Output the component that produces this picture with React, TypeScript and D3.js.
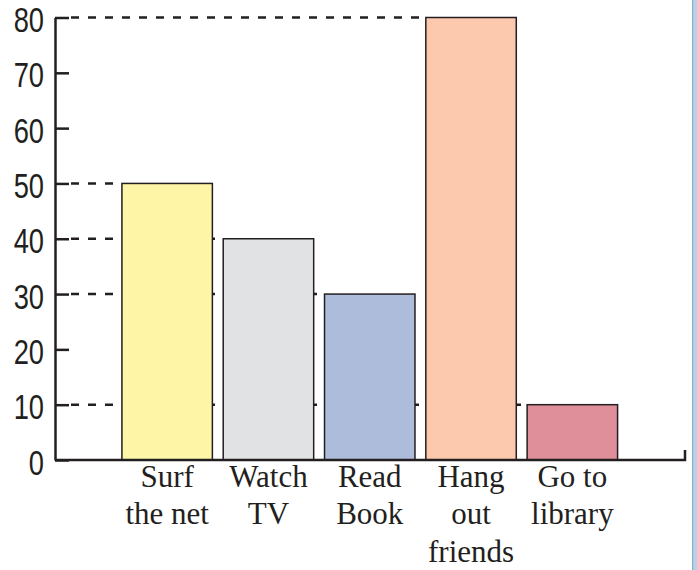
import * as d3 from "d3";
import React from "react";

// activities and how many students picked each one
const categories = ["Surf the net", "Watch TV", "Read Book", "Hang out friends", "Go to library"];
const labelLines = [["Surf", "the net"], ["Watch", "TV"], ["Read", "Book"], ["Hang", "out", "friends"], ["Go to", "library"]];
const values = [50, 40, 30, 80, 10];
const barColors = ["#fef6a6", "#e1e2e4", "#aebcdc", "#fcc8ae", "#de8f9a"];
const yTicks = [0, 10, 20, 30, 40, 50, 60, 70, 80];

const W = 697;
const H = 570;
const axisX = 55;
const axisBottomY = 460;
const axisTopY = 17.5;
const axisEndX = 685;
const ink = "#231f20";
const squeeze = 0.78; // tick digits are a condensed face in the original

const App = () => {
  const ref = React.useRef<SVGSVGElement>(null);

  React.useEffect(() => {
    const svg = d3.select(ref.current);
    svg.selectAll("*").remove();

    const y = d3.scaleLinear().domain([0, 80]).range([axisBottomY, axisTopY]);
    const x = d3
      .scaleBand()
      .domain(categories)
      .range([116.5, 623])
      .paddingInner(0.107)
      .paddingOuter(0.0535);

    const data = categories.map((c, i) => ({ cat: c, value: values[i], color: barColors[i], lines: labelLines[i] }));

    // dashed guide lines from the axis to each bar top (sit behind the bars)
    svg
      .append("g")
      .selectAll("line")
      .data(data)
      .enter()
      .append("line")
      .attr("x1", axisX + 16)
      .attr("x2", (d) => x(d.cat)!)
      .attr("y1", (d) => y(d.value))
      .attr("y2", (d) => y(d.value))
      .attr("stroke", ink)
      .attr("stroke-width", 2.4)
      .attr("stroke-dasharray", "8,9");

    // bars
    svg
      .append("g")
      .selectAll("rect")
      .data(data)
      .enter()
      .append("rect")
      .attr("x", (d) => x(d.cat)!)
      .attr("y", (d) => y(d.value))
      .attr("width", x.bandwidth())
      .attr("height", (d) => y(0) - y(d.value))
      .attr("fill", (d) => d.color)
      .attr("stroke", ink)
      .attr("stroke-width", 1.5);

    // y axis, ticks pointing inward
    const yAxis = d3
      .axisLeft(y)
      .tickValues(yTicks)
      .tickSizeInner(-14)
      .tickSizeOuter(0)
      .tickPadding(11);
    const ag = svg
      .append("g")
      .attr("transform", "translate(" + axisX + ",0)")
      .call(yAxis);
    ag.select(".domain").attr("stroke", ink).attr("stroke-width", 2.5);
    ag.selectAll(".tick line").attr("stroke", ink).attr("stroke-width", 2.5);
    ag.selectAll(".tick text")
      .attr("fill", ink)
      .attr("x", -11 / squeeze)
      .attr("dy", "0.4em")
      .attr("transform", "scale(" + squeeze + ",1)")
      .style("font-family", "'Liberation Sans', 'DejaVu Sans', sans-serif")
      .style("font-size", "35px");

    // x axis baseline with small upturn at the end
    svg
      .append("path")
      .attr("d", "M" + axisX + "," + axisBottomY + "H" + axisEndX + "V" + (axisBottomY - 10))
      .attr("fill", "none")
      .attr("stroke", ink)
      .attr("stroke-width", 2.5);

    // category labels
    const lab = svg
      .append("g")
      .selectAll("text")
      .data(data)
      .enter()
      .append("text")
      .attr("x", (d) => x(d.cat)! + x.bandwidth() / 2)
      .attr("y", 486.7)
      .attr("text-anchor", "middle")
      .attr("fill", ink)
      .style("font-family", "'Liberation Serif', 'Times New Roman', serif")
      .style("font-size", "31px");
    lab
      .selectAll("tspan")
      .data((d) => d.lines.map((l) => ({ l, cx: x(d.cat)! + x.bandwidth() / 2 })))
      .enter()
      .append("tspan")
      .attr("x", (d) => d.cx)
      .attr("dy", (d, i) => (i === 0 ? 0 : 37.5))
      .text((d) => d.l);

    // page edge strip on the right
    svg.append("rect").attr("x", 692).attr("y", 0).attr("width", 5).attr("height", H).attr("fill", "#b7d2e6");
    svg.append("rect").attr("x", 692).attr("y", 0).attr("width", 1.2).attr("height", H).attr("fill", "#8db1cc");
  }, []);

  return (
    <svg
      ref={ref}
      width={W}
      height={H}
      style={{ position: "absolute", left: 0, top: 0, background: "#fff" }}
    ></svg>
  );
};

export default App;
